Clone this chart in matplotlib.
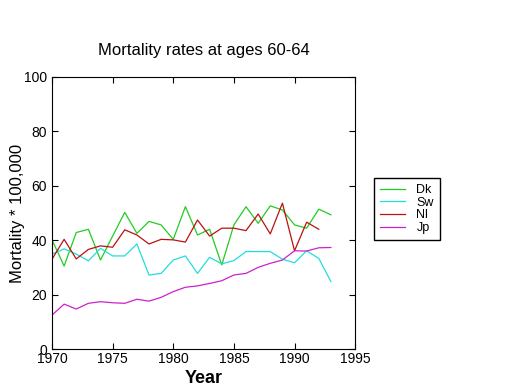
import matplotlib
matplotlib.use('Agg')
import matplotlib.pyplot as plt

plt.rcParams['font.family'] = 'Liberation Sans'

years = list(range(1970, 1994))
dk = [40.1, 30.5, 42.8, 44.0, 32.7, 41.5, 50.2, 42.5, 46.9, 45.6, 40.3, 52.3,
      41.9, 44.0, 30.9, 45.6, 52.3, 46.2, 52.6, 51.1, 45.6, 44.4, 51.4, 49.3]
sw = [34.9, 36.8, 34.9, 32.4, 37.0, 34.2, 34.2, 38.6, 27.2, 27.8, 32.7, 34.2,
      27.8, 33.7, 31.3, 32.5, 35.8, 35.8, 35.8, 33.0, 31.7, 36.1, 33.3, 24.8]
nl = [33.0, 40.3, 33.1, 36.6, 37.9, 37.4, 43.8, 41.9, 38.6, 40.3, 40.1, 39.3,
      47.4, 41.5, 44.4, 44.4, 43.5, 49.6, 42.3, 53.6, 36.1, 46.6, 44.0]
jp = [12.5, 16.5, 14.7, 16.8, 17.4, 17.0, 16.8, 18.3, 17.6, 19.0, 21.1, 22.7,
      23.2, 24.1, 25.1, 27.2, 27.8, 30.0, 31.5, 32.7, 36.1, 36.0, 37.2, 37.3]

fig = plt.figure(figsize=(5.2, 3.9), dpi=100)
ax = fig.add_axes([0.1, 0.105, 0.583, 0.698])

ax.plot(years, dk, color='#22cc22', lw=0.9, label='Dk')
ax.plot(years, sw, color='#22dddd', lw=0.9, label='Sw')
ax.plot(years[:len(nl)], nl, color='#bb1111', lw=0.9, label='Nl')
ax.plot(years, jp, color='#cc22cc', lw=0.9, label='Jp')

ax.set_xlim(1970, 1995)
ax.set_ylim(0, 100)
ax.set_xticks(range(1970, 1996, 5))
ax.set_yticks(range(0, 101, 20))
ax.tick_params(direction='in', top=True, right=True, labelsize=10, length=4)
ax.tick_params(axis='x', pad=2)
ax.set_xlabel('Year', fontsize=13, fontweight='bold', labelpad=3)
ax.set_ylabel('Mortality * 100,000', fontsize=12, labelpad=-1)
ax.set_title('Mortality rates at ages 60-64', fontsize=12, pad=16)

fig.legend(loc='upper left', bbox_to_anchor=(0.707, 0.56), fontsize=9,
           fancybox=False, edgecolor='black', framealpha=1, handlelength=2.0,
           borderpad=0.5, labelspacing=0.05, handletextpad=0.9)

fig.savefig('out.png', dpi=100, facecolor='white')
